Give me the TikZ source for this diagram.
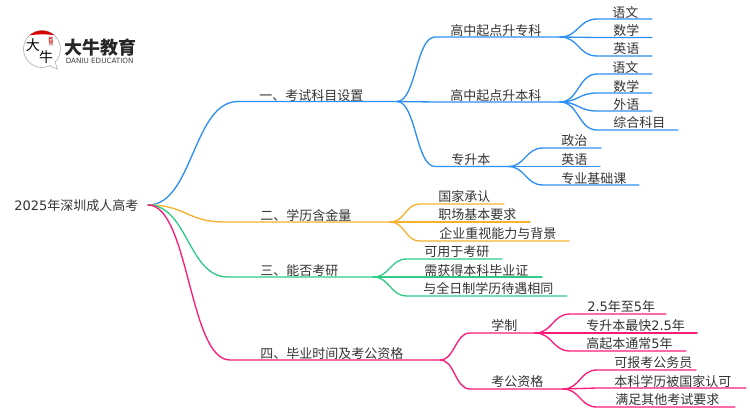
\documentclass[tikz,border=0pt]{standalone}
\usepackage{fontspec}
\setmainfont{Noto Sans CJK SC}
\newfontfamily\latf{DejaVu Sans}
\definecolor{cblue}{HTML}{2E8FF5}
\definecolor{corange}{HTML}{F5B232}
\definecolor{cgreen}{HTML}{2FCB87}
\definecolor{cpink}{HTML}{FB1C78}
\definecolor{ctext}{HTML}{333333}
\tikzset{
  lab/.style={anchor=west,inner sep=0pt,text=ctext,yshift=-0.5pt,font=\fontsize{9.75pt}{11pt}\selectfont},
  conn/.style={line width=1pt,line cap=round,line join=round},
  logohand/.style={inner sep=0pt,text=black,font=\fontsize{10.5pt}{11pt}\selectfont},
}
% \topic{name}{parent}{colour}{x flat start}{x end}{y}{text x}{text y}{text}
\newcommand{\topic}[9]{%
  \expandafter\xdef\csname endx@#1\endcsname{#5}%
  \coordinate (#1-s) at (#4,#6);
  \coordinate (#1) at (#5,#6);
  \node[lab] (#1-t) at (#7,#8) {#9};
  \pgfmathsetmacro{\dxx}{(#4-\csname endx@#2\endcsname)*0.5}
  \draw[conn,#3] (#2) .. controls +(\dxx,0) and +(-\dxx,0) .. (#1-s) -- (#1);
}
\begin{document}
\begin{tikzpicture}[x=0.75pt,y=-0.75pt]
\useasboundingbox (0,0) rectangle (750,410);
% logo
\draw[line width=0.4pt,draw=black!35,fill=white] (42,49) circle (18.5);
\draw[line width=0.4pt,draw=black!35,fill=white] (50,66.2) -- (57.5,69) -- (55,62);
\fill[white] (49.5,64) -- (55,67.5) -- (54,61) -- cycle;
\begin{scope}
  \clip (42,49) circle (18.5);
  \fill[red!85!black] (20,25) -- (65,25) -- (65,37) .. controls (50,33.5) and (35,33.5) .. (20,37) -- cycle;
\end{scope}
\node[logohand] (logoa) at (33,45) {大};
\node[logohand] (logob) at (46,57.5) {牛};
\node[inner sep=0pt,text=red!75!black,font=\fontsize{4pt}{4pt}\selectfont,align=center] (logoc) at (51,41.5) {教\\[-1pt]育};
\node[inner sep=0pt,anchor=west,text=black!85,font=\fontsize{13.5pt}{14pt}\selectfont\bfseries] (logod) at (64,48) {大牛教育};
\node[inner sep=0pt,anchor=west,text=black!75,font=\latf\fontsize{5.4pt}{6pt}\selectfont] (logoe) at (65.5,60.5) {DANIU EDUCATION};
% root
\coordinate (root) at (148,205);
\expandafter\xdef\csname endx@root\endcsname{148}
\node[lab] (root-t) at (14,205) {{\latf 2025}年深圳成人高考};
% branch 1
\topic{b1}{root}{cblue}{238}{397}{101.5}{259}{95}{一、考试科目设置}
\topic{b11}{b1}{cblue}{435}{560}{37}{450}{30}{高中起点升专科}
\topic{b12}{b1}{cblue}{435}{560}{102}{450}{95}{高中起点升本科}
\topic{b13}{b1}{cblue}{435}{508}{166.5}{451}{159}{专升本}
\topic{a1}{b11}{cblue}{597}{652}{19}{612}{11.5}{语文}
\topic{a2}{b11}{cblue}{597}{652}{37.5}{613}{30}{数学}
\topic{a3}{b11}{cblue}{597}{652}{56}{613}{48}{英语}
\topic{c1}{b12}{cblue}{597}{652}{74}{612}{67}{语文}
\topic{c2}{b12}{cblue}{597}{652}{93}{613}{85.5}{数学}
\topic{c3}{b12}{cblue}{597}{652}{111}{613}{104}{外语}
\topic{c4}{b12}{cblue}{597}{678}{130}{613}{122}{综合科目}
\topic{d1}{b13}{cblue}{543}{601}{148}{561}{140}{政治}
\topic{d2}{b13}{cblue}{543}{600}{166.5}{561}{159}{英语}
\topic{d3}{b13}{cblue}{543}{639}{185}{561}{178}{专业基础课}
% branch 2
\topic{b2}{root}{corange}{225}{390}{222}{260}{215}{二、学历含金量}
\topic{e1}{b2}{corange}{420}{504}{204}{438}{196}{国家承认}
\topic{e2}{b2}{corange}{420}{530}{222}{438}{214}{职场基本要求}
\topic{e3}{b2}{corange}{420}{569}{241}{439}{233}{企业重视能力与背景}
% branch 3
\topic{b3}{root}{cgreen}{228}{373}{277}{260}{270}{三、能否考研}
\topic{f1}{b3}{cgreen}{407}{502}{259}{424}{251}{可用于考研}
\topic{f2}{b3}{cgreen}{407}{542}{277}{424}{270}{需获得本科毕业证}
\topic{f3}{b3}{cgreen}{407}{567}{296}{423}{288}{与全日制学历待遇相同}
% branch 4
\topic{b4}{root}{cpink}{230}{440}{360}{260}{353}{四、毕业时间及考公资格}
\topic{b41}{b4}{cpink}{470}{535}{333}{491}{325}{学制}
\topic{b42}{b4}{cpink}{470}{563}{389}{491}{381}{考公资格}
\topic{g1}{b41}{cpink}{570}{666}{314}{587}{306}{{\latf 2.5}年至{\latf 5}年}
\topic{g2}{b41}{cpink}{570}{697}{333}{586}{325}{专升本最快{\latf 2.5}年}
\topic{g3}{b41}{cpink}{570}{686}{351}{586}{343}{高起本通常{\latf 5}年}
\topic{h1}{b42}{cpink}{597}{696}{370}{614}{362}{可报考公务员}
\topic{h2}{b42}{cpink}{597}{746}{388}{614}{381}{本科学历被国家认可}
\topic{h3}{b42}{cpink}{597}{735}{407}{615}{399}{满足其他考试要求}
\end{tikzpicture}
\end{document}
